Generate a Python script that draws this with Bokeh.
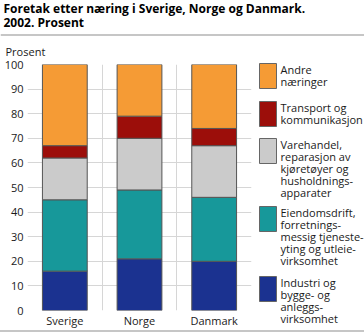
from bokeh.plotting import figure
from bokeh.layouts import column, row
from bokeh.models import Range1d, FixedTicker, ColumnDataSource
from bokeh.core.properties import value
from bokeh.embed import file_html
from bokeh.resources import INLINE

# ---------------- data ----------------
countries = ["Sverige", "Norge", "Danmark"]
industri = [16, 21, 20]
eiendomsdrift = [29, 28, 26]
varehandel = [17, 21, 21]
transport = [5, 9, 7]
andre = [33, 21, 26]
y_ticks = [0, 10, 20, 30, 40, 50, 60, 70, 80, 90, 100]

series_keys = ["industri", "eiendomsdrift", "varehandel", "transport", "andre"]
series_labels = [
    "Industri og\nbygge- og\nanleggs-\nvirksomhet",
    "Eiendomsdrift,\nforretnings-\nmessig tjeneste-\nyting og utleie-\nvirksomhet",
    "Varehandel,\nreparasjon av\nkjøretøyer og\nhusholdnings-\napparater",
    "Transport og\nkommunikasjon",
    "Andre\nnæringer",
]
colors = ["#1b3290", "#17989a", "#cbcbcb", "#9c0e0a", "#f59b35"]

title_lines = ["Foretak etter næring i Sverige, Norge og Danmark.", "2002. Prosent"]
unit_label = "Prosent"

FONT = value("Open Sans")
TXT = "#1a1a1a"
SEP = "#c6c6c6"
GRID = "#d6d6d6"


def blank(w, h, xr, yr):
    return figure(width=w, height=h, x_range=xr, y_range=yr, min_border=0,
                  x_axis_type=None, y_axis_type=None, frame_align=False,
                  toolbar_location=None, output_backend="svg", outline_line_color=None)


# ---------------- title strip (pixel coordinates, y down) ----------------
t = blank(364, 57, Range1d(0, 364), Range1d(57, 0))
t.text(x=[3, 3], y=[14 - 6.5, 28 - 6.5], text=title_lines, text_font=FONT,
       text_font_style="bold", text_font_size="12px", text_color="#000000",
       text_baseline="alphabetic", text_align="left")
t.line(x=[0, 364], y=[34.5, 34.5], line_color=SEP, line_width=2)
t.text(x=[5], y=[54 - 3.5], text=[unit_label], text_font=FONT, text_font_size="11px",
       text_color=TXT, text_baseline="alphabetic", text_align="left")

# ---------------- main chart ----------------
xs = [i + 0.5 for i in range(len(countries))]
src = ColumnDataSource(dict(x=xs, industri=industri, eiendomsdrift=eiendomsdrift,
                            varehandel=varehandel, transport=transport, andre=andre))

p = figure(width=256, height=273, x_range=Range1d(0, len(countries)), y_range=Range1d(0, 100),
           min_border_left=27, min_border_right=5, min_border_top=7, min_border_bottom=19,
           frame_align=False,
           toolbar_location=None, output_backend="svg", outline_line_color=None)
p.vbar_stack(series_keys, x="x", width=0.6, fill_color=colors, line_color="#555555",
             line_width=1, source=src)

p.yaxis.ticker = FixedTicker(ticks=y_ticks)
p.xaxis.ticker = FixedTicker(ticks=xs)
p.xaxis.major_label_overrides = {x: c for x, c in zip(xs, countries)}
for ax in (p.xaxis[0], p.yaxis[0]):
    ax.axis_line_color = None
    ax.major_tick_line_color = None
    ax.minor_tick_line_color = None
    ax.major_tick_out = 0
    ax.major_tick_in = 0
    ax.minor_tick_out = 0
    ax.minor_tick_in = 0
    ax.major_label_text_font = "Open Sans"
    ax.major_label_text_font_size = "11px"
    ax.major_label_text_color = TXT
p.yaxis.major_label_standoff = 4
p.xaxis.major_label_standoff = 2
p.xgrid.ticker = FixedTicker(ticks=list(range(len(countries) + 1)))
p.ygrid.ticker = FixedTicker(ticks=y_ticks)
p.xgrid.grid_line_color = GRID
p.ygrid.grid_line_color = GRID

# ---------------- legend (pixel coordinates, y down) ----------------
lg = blank(108, 273, Range1d(256, 364), Range1d(330, 57))
legend_tops = [63, 101, 138, 206, 276]
order = list(reversed(range(len(series_keys))))
lg.quad(left=[259] * len(order), right=[276] * len(order), top=legend_tops,
        bottom=[v + 25 for v in legend_tops], fill_color=[colors[i] for i in order],
        line_color="#666666", line_width=1)
tx, ty, tt = [], [], []
for top, i in zip(legend_tops, order):
    for k, ln in enumerate(series_labels[i].split("\n")):
        tx.append(280)
        ty.append(top + 10 + 12 * k - 4)
        tt.append(ln)
lg.text(x=tx, y=ty, text=tt, text_font=FONT, text_font_size="11px", text_color=TXT,
        text_baseline="alphabetic", text_align="left")

# bottom rule drawn as a 2px shadow under the chart row
body = row(p, lg, styles={"box-shadow": "0px 2px 0px 0px " + SEP})

layout = column(t, body)
open("out.html", "w").write(file_html(layout, INLINE))
